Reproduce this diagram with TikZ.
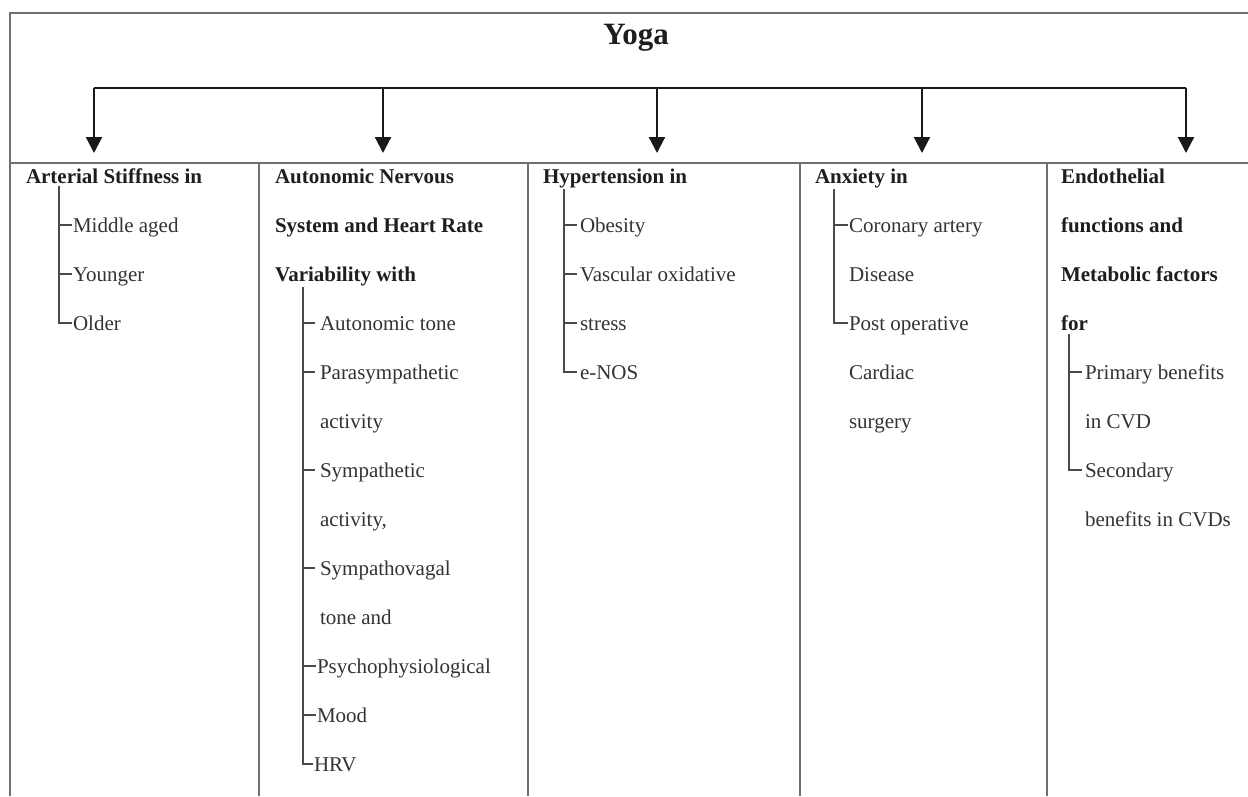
\documentclass[tikz,border=0pt]{standalone}
\usepackage{fontspec}
\setmainfont{Liberation Serif}
\usetikzlibrary{arrows.meta}
\definecolor{framec}{HTML}{707070}
\definecolor{treec}{HTML}{4A4A4A}
\definecolor{txtc}{HTML}{333333}
\definecolor{hdc}{HTML}{1E1E1E}
\tikzset{
  frameline/.style={draw=framec, line width=1.6pt},
  conn/.style={draw=black!90, line width=2.2pt},
  arrowconn/.style={conn, -{Triangle[width=16pt,length=16pt]}},
  treeline/.style={draw=treec, line width=1.5pt},
  hd/.style={anchor=base west, inner sep=0pt, outer sep=0pt, text=hdc, font=\fontsize{21}{25}\selectfont\bfseries},
  it/.style={anchor=base west, inner sep=0pt, outer sep=0pt, text=txtc, font=\fontsize{21}{25}\selectfont},
  ttl/.style={anchor=base, inner sep=0pt, text=hdc, font=\fontsize{31}{36}\selectfont\bfseries}
}
\begin{document}
\begin{tikzpicture}[x=1pt,y=-1pt]
\useasboundingbox (0,0) rectangle (1248,796);
\fill[white] (0,0) rectangle (1248,796);
% frame
\draw[frameline] (10,796) -- (10,13) -- (1248,13);
\draw[frameline] (10,163) -- (1248,163);
\foreach \x in {259,528,800,1047} \draw[frameline] (\x,163) -- (\x,796);
% title
\node[ttl] (yoga) at (636,44) {Yoga};
% connector bar
\coordinate (j1) at (94,88);
\coordinate (j2) at (383,88);
\coordinate (j3) at (657,88);
\coordinate (j4) at (922,88);
\coordinate (j5) at (1186,88);
\coordinate (e1) at (94,153);
\coordinate (e2) at (383,153);
\coordinate (e3) at (657,153);
\coordinate (e4) at (922,153);
\coordinate (e5) at (1186,153);
\draw[conn] (j1) -- (j5);
\draw[arrowconn] (j1) -- (e1);
\draw[arrowconn] (j2) -- (e2);
\draw[arrowconn] (j3) -- (e3);
\draw[arrowconn] (j4) -- (e4);
\draw[arrowconn] (j5) -- (e5);
% column 1
\node[hd] (h1) at (26,183) {Arterial Stiffness in};
\node[it] (a1) at (73,232) {Middle aged};
\node[it] (a2) at (73,281) {Younger};
\node[it] (a3) at (73,330) {Older};
\coordinate (t1) at (59,186);
\draw[treeline] (t1) |- ([yshift=7pt,xshift=-1pt]a1.base west);
\draw[treeline] (t1) |- ([yshift=7pt,xshift=-1pt]a2.base west);
\draw[treeline] (t1) |- ([yshift=7pt,xshift=-1pt]a3.base west);
% column 2
\node[hd] (h2a) at (275,183) {Autonomic Nervous};
\node[hd] (h2b) at (275,232) {System and Heart Rate};
\node[hd] (h2c) at (275,281) {Variability with};
\node[it] (b1) at (320,330) {Autonomic tone};
\node[it] (b2) at (320,379) {Parasympathetic};
\node[it] (b2x) at (320,428) {activity};
\node[it] (b3) at (320,477) {Sympathetic};
\node[it] (b3x) at (320,526) {activity,};
\node[it] (b4) at (320,575) {Sympathovagal};
\node[it] (b4x) at (320,624) {tone and};
\node[it] (b5) at (317,673) {Psychophysiological};
\node[it] (b6) at (317,722) {Mood};
\node[it] (b7) at (314,771) {HRV};
\coordinate (t2) at (303,287);
\draw[treeline] (t2) |- ([yshift=7pt,xshift=-5pt]b1.base west);
\draw[treeline] (t2) |- ([yshift=7pt,xshift=-5pt]b2.base west);
\draw[treeline] (t2) |- ([yshift=7pt,xshift=-5pt]b3.base west);
\draw[treeline] (t2) |- ([yshift=7pt,xshift=-5pt]b4.base west);
\draw[treeline] (t2) |- ([yshift=7pt,xshift=-1pt]b5.base west);
\draw[treeline] (t2) |- ([yshift=7pt,xshift=-1pt]b6.base west);
\draw[treeline] (t2) |- ([yshift=7pt,xshift=-1pt]b7.base west);
% column 3
\node[hd] (h3) at (543,183) {Hypertension in};
\node[it] (c1) at (580,232) {Obesity};
\node[it] (c2) at (580,281) {Vascular oxidative};
\node[it] (c3) at (580,330) {stress};
\node[it] (c4) at (580,379) {e-NOS};
\coordinate (t3) at (564,189);
\draw[treeline] (t3) |- ([yshift=7pt,xshift=-3pt]c1.base west);
\draw[treeline] (t3) |- ([yshift=7pt,xshift=-3pt]c2.base west);
\draw[treeline] (t3) |- ([yshift=7pt,xshift=-3pt]c3.base west);
\draw[treeline] (t3) |- ([yshift=7pt,xshift=-3pt]c4.base west);
% column 4
\node[hd] (h4) at (815,183) {Anxiety in};
\node[it] (d1) at (849,232) {Coronary artery};
\node[it] (d1x) at (849,281) {Disease};
\node[it] (d2) at (849,330) {Post operative};
\node[it] (d2x) at (849,379) {Cardiac};
\node[it] (d2y) at (849,428) {surgery};
\coordinate (t4) at (834,189);
\draw[treeline] (t4) |- ([yshift=7pt,xshift=-1pt]d1.base west);
\draw[treeline] (t4) |- ([yshift=7pt,xshift=-1pt]d2.base west);
% column 5
\node[hd] (h5a) at (1061,183) {Endothelial};
\node[hd] (h5b) at (1061,232) {functions and};
\node[hd] (h5c) at (1061,281) {Metabolic factors};
\node[hd] (h5d) at (1061,330) {for};
\node[it] (f1) at (1085,379) {Primary benefits};
\node[it] (f1x) at (1085,428) {in CVD};
\node[it] (f2) at (1085,477) {Secondary};
\node[it] (f2x) at (1085,526) {benefits in CVDs};
\coordinate (t5) at (1069,334);
\draw[treeline] (t5) |- ([yshift=7pt,xshift=-3pt]f1.base west);
\draw[treeline] (t5) |- ([yshift=7pt,xshift=-3pt]f2.base west);
\end{tikzpicture}
\end{document}
